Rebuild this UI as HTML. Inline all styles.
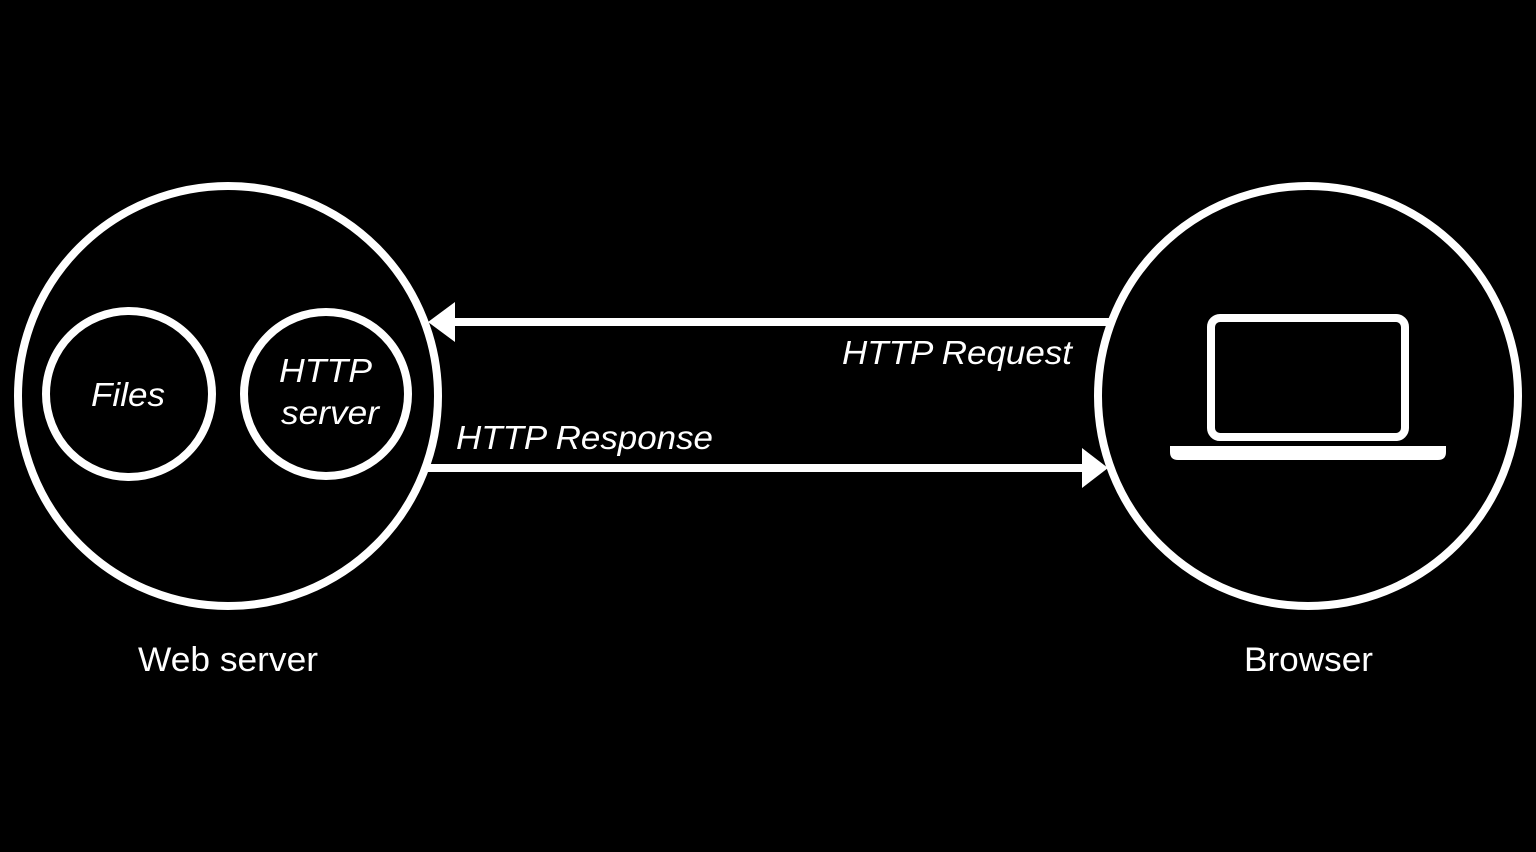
<!DOCTYPE html>
<html><head><meta charset="utf-8"><style>
html,body{margin:0;padding:0;background:#000;}
svg{display:block;}
text{font-family:"Liberation Sans",sans-serif;fill:#fff;}
</style></head><body>
<svg width="1536" height="852" viewBox="0 0 1536 852" xmlns="http://www.w3.org/2000/svg">
<rect width="1536" height="852" fill="#000"/>
<g fill="none" stroke="#fff" stroke-width="8">
<circle cx="228" cy="396" r="210"/>
<circle cx="1308" cy="396" r="210"/>
<circle cx="129" cy="394" r="83"/>
<circle cx="326" cy="394" r="82"/>
<rect x="1211" y="318" width="194" height="119" rx="9"/>
</g>
<path d="M1170 446 H1446 V452 Q1446 460 1438 460 H1178 Q1170 460 1170 452 Z" fill="#fff"/>
<line x1="452" y1="322" x2="1110" y2="322" stroke="#fff" stroke-width="8"/>
<polygon points="428,322 455,302 455,342" fill="#fff"/>
<line x1="426" y1="468" x2="1084" y2="468" stroke="#fff" stroke-width="8"/>
<polygon points="1108,468 1082,448 1082,488" fill="#fff"/>
<g font-style="italic" font-size="33">
<text x="91" y="406" textLength="74" lengthAdjust="spacingAndGlyphs">Files</text>
<text x="279" y="382" textLength="93" lengthAdjust="spacingAndGlyphs">HTTP</text>
<text x="281" y="424" textLength="98" lengthAdjust="spacingAndGlyphs">server</text>
<text x="842" y="364" textLength="230" lengthAdjust="spacingAndGlyphs">HTTP Request</text>
<text x="456" y="449" textLength="257" lengthAdjust="spacingAndGlyphs">HTTP Response</text>
</g>
<g font-size="34">
<text x="138" y="671" textLength="180" lengthAdjust="spacingAndGlyphs">Web server</text>
<text x="1244" y="671" textLength="129" lengthAdjust="spacingAndGlyphs">Browser</text>
</g>
</svg>
</body></html>
